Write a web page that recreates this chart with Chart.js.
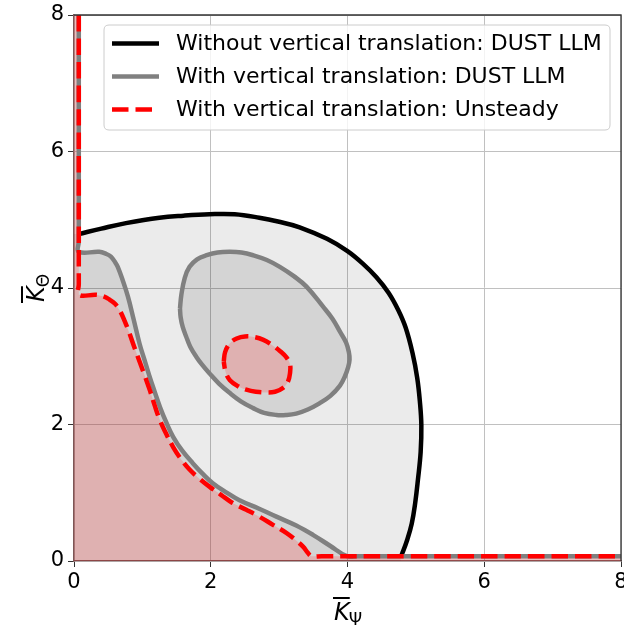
<!DOCTYPE html>
<html><head><meta charset="utf-8">
<script src="https://cdn.jsdelivr.net/npm/chart.js@4.4.0/dist/chart.umd.min.js"></script>
<style>html,body{margin:0;padding:0;background:#fff}#wrap{width:624px;height:629px;position:relative}</style>
</head><body><div id="wrap"><canvas id="c"></canvas></div>
<script>
const xTicks = [0, 2, 4, 6, 8];
const yTicks = [0, 2, 4, 6, 8];
const EDGE = 0.07;
const TOP = 8, RIGHT = 8;

// Without vertical translation: DUST LLM (black boundary)
const blackCurve = [[0.07,4.79],[0.4,4.87],[0.76,4.95],[1.25,5.03],[1.6,5.06],[1.98,5.08],[2.35,5.08],[2.71,5.03],[3.0,4.97],[3.30,4.89],[3.7,4.72],[4.0,4.54],[4.22,4.36],[4.42,4.16],[4.60,3.93],[4.74,3.68],[4.85,3.42],[4.95,3.05],[5.02,2.68],[5.06,2.32],[5.08,1.99],[5.07,1.6],[5.03,1.19],[4.99,0.85],[4.94,0.55],[4.87,0.3],[4.80,0.11],[4.78,0.07]];

// With vertical translation: DUST LLM (gray boundary)
const grayBlob = [[0.07,4.53],[0.37,4.53],[0.47,4.50],[0.54,4.46],[0.60,4.38],[0.64,4.31],[0.71,4.12],[0.79,3.87],[0.87,3.55],[0.96,3.18],[1.03,2.95],[1.10,2.72],[1.18,2.48],[1.26,2.25],[1.35,2.03],[1.45,1.82],[1.58,1.62],[1.74,1.43],[1.88,1.28],[2.03,1.14],[2.22,1.01],[2.42,0.89],[2.70,0.77],[2.96,0.65],[3.25,0.52],[3.50,0.38],[3.75,0.22],[3.99,0.07]];
const grayLoop = [[1.55,3.70],[1.57,3.90],[1.62,4.15],[1.69,4.31],[1.80,4.42],[1.94,4.48],[2.10,4.52],[2.28,4.53],[2.45,4.52],[2.62,4.48],[2.82,4.41],[3.01,4.31],[3.22,4.17],[3.40,4.02],[3.64,3.73],[3.78,3.55],[3.89,3.36],[3.98,3.20],[4.02,3.06],[4.03,2.95],[4.01,2.84],[3.96,2.70],[3.89,2.57],[3.75,2.42],[3.59,2.31],[3.42,2.22],[3.25,2.16],[3.10,2.14],[2.96,2.14],[2.78,2.17],[2.62,2.24],[2.44,2.34],[2.28,2.46],[2.12,2.60],[1.98,2.75],[1.87,2.88],[1.79,2.99],[1.70,3.14],[1.64,3.29],[1.59,3.43],[1.56,3.57],[1.55,3.70]];

// With vertical translation: Unsteady (red boundary)
const redBlob = [[0.07,3.90],[0.33,3.90],[0.45,3.87],[0.52,3.83],[0.60,3.77],[0.67,3.67],[0.74,3.52],[0.81,3.34],[0.88,3.14],[0.96,2.92],[1.04,2.70],[1.11,2.50],[1.18,2.28],[1.25,2.08],[1.35,1.86],[1.45,1.67],[1.56,1.50],[1.69,1.34],[1.83,1.21],[1.98,1.09],[2.15,0.97],[2.32,0.85],[2.52,0.75],[2.71,0.65],[2.91,0.53],[3.11,0.41],[3.25,0.30],[3.35,0.21],[3.42,0.12],[3.47,0.07]];
const redLoop = [[2.19,2.92],[2.21,3.06],[2.28,3.19],[2.38,3.26],[2.50,3.29],[2.64,3.28],[2.77,3.24],[2.89,3.17],[3.02,3.07],[3.11,2.98],[3.16,2.88],[3.16,2.76],[3.13,2.63],[3.05,2.53],[2.94,2.48],[2.81,2.47],[2.66,2.48],[2.52,2.51],[2.40,2.56],[2.28,2.65],[2.22,2.76],[2.19,2.92]];

const legendLabels = ['Without vertical translation: DUST LLM','With vertical translation: DUST LLM','With vertical translation: Unsteady'];
const lineColors = ['#000000','#808080','#ff0000'];

const pts = a => a.map(p => ({x:p[0], y:p[1]}));
// boundary lines running along the left and bottom edges of the plot
const grayEdge = [[EDGE,TOP],[EDGE,4.68], ...grayBlob, [4.15,EDGE],[RIGHT,EDGE]];
const redEdge = [[EDGE,TOP],[EDGE,4.05], ...redBlob, [3.62,EDGE],[RIGHT,EDGE]];
const blackFill = [[0,0],[0,4.79], ...blackCurve, [4.78,0]];
const grayFill = [[0,TOP], ...grayEdge, [RIGHT,0],[0,0]];
const redFill = [[0,TOP], ...redEdge, [RIGHT,0],[0,0]];

const LW = 4.5, T = 0.4, DASH = [16.5, 7];
const fillDs = (data, color, order, t) => ({data: pts(data), fill:'shape', backgroundColor: color, borderWidth:0, borderColor:'rgba(0,0,0,0)', pointRadius:0, tension:t||0, order});
const lineDs = (data, color, order, dash) => ({data: pts(data), fill:false, borderColor: color, borderWidth: LW, borderDash: dash||[], borderCapStyle:'butt', borderJoinStyle:'round', pointRadius:0, tension:T, order});

const datasets = [
  fillDs(blackFill, 'rgba(0,0,0,0.08)', 20),
  fillDs(grayFill, 'rgba(0,0,0,0.10)', 19),
  fillDs(grayLoop, 'rgba(0,0,0,0.10)', 18, T),
  fillDs(redFill, 'rgba(255,71,71,0.25)', 17),
  fillDs(redLoop, 'rgba(255,71,71,0.25)', 16, T),
  lineDs(blackCurve, lineColors[0], 10),
  lineDs(grayEdge, lineColors[1], 9),
  lineDs(grayLoop, lineColors[1], 8),
  lineDs(redEdge, lineColors[2], 7, DASH),
  lineDs(redLoop, lineColors[2], 6, DASH),
];

const FONT = 'DejaVu Sans';
const decor = {
  id:'decor',
  afterDraw(chart){
    const ctx = chart.ctx, a = chart.chartArea;
    ctx.save();
    // top/right spines
    ctx.strokeStyle = '#333333'; ctx.lineWidth = 1.3;
    ctx.beginPath(); ctx.moveTo(a.left, a.top); ctx.lineTo(a.right, a.top); ctx.lineTo(a.right, a.bottom); ctx.stroke();
    // legend box
    const bx=104, by=25, bw=506, bh=105, r=5;
    ctx.beginPath();
    ctx.moveTo(bx+r,by); ctx.lineTo(bx+bw-r,by); ctx.quadraticCurveTo(bx+bw,by,bx+bw,by+r);
    ctx.lineTo(bx+bw,by+bh-r); ctx.quadraticCurveTo(bx+bw,by+bh,bx+bw-r,by+bh);
    ctx.lineTo(bx+r,by+bh); ctx.quadraticCurveTo(bx,by+bh,bx,by+bh-r);
    ctx.lineTo(bx,by+r); ctx.quadraticCurveTo(bx,by,bx+r,by); ctx.closePath();
    ctx.fillStyle='rgba(255,255,255,0.8)'; ctx.fill();
    ctx.strokeStyle='#cccccc'; ctx.lineWidth=1; ctx.stroke();
    const ys=[43.6,76.4,109.5];
    ctx.font = '22px "'+FONT+'"'; ctx.textBaseline='middle'; ctx.textAlign='left';
    legendLabels.forEach((t,i)=>{
      ctx.beginPath(); ctx.strokeStyle=lineColors[i]; ctx.lineWidth=LW; ctx.lineCap='butt';
      ctx.setLineDash(i===2?DASH:[]);
      ctx.moveTo(112, ys[i]); ctx.lineTo(159, ys[i]); ctx.stroke();
      ctx.setLineDash([]);
      ctx.fillStyle='#000'; ctx.fillText(t, 176, ys[i]+1);
    });
    // axis titles
    const title = (sub) => {
      ctx.font = 'italic 24px "'+FONT+'"'; ctx.textBaseline='alphabetic'; ctx.textAlign='left';
      const kw = ctx.measureText('K').width;
      ctx.fillText('K', 0, 0);
      ctx.fillRect(-1, -23, kw+1, 2);
      ctx.font = '17px "'+FONT+'"';
      ctx.fillText(sub, kw-1, 5);
    };
    ctx.fillStyle='#000';
    ctx.save(); ctx.translate(334, 620); title('Ψ'); ctx.restore();
    ctx.save(); ctx.translate(44, 302); ctx.rotate(-Math.PI/2); title('Θ'); ctx.restore();
    ctx.restore();
  }
};

const tickFont = {family: FONT, size: 21};
new Chart(document.getElementById('c'), {
  type:'line',
  data:{datasets},
  options:{
    responsive:true, maintainAspectRatio:false, animation:false,
    layout:{padding:{left:0,right:3,top:15,bottom:0}},
    plugins:{legend:{display:false}, tooltip:{enabled:false}},
    scales:{
      x:{type:'linear', min:0, max:8,
        afterBuildTicks: s => { s.ticks = xTicks.map(v=>({value:v})); },
        afterFit: s => { s.height = 68; s.paddingLeft = 0; s.paddingRight = 0; },
        grid:{color:'#c0c0c0', lineWidth:1, tickColor:'#333', tickLength:6},
        border:{color:'#7d5656', width:1.3},
        ticks:{font:tickFont, color:'#000', padding:3, maxRotation:0, autoSkip:false}},
      y:{type:'linear', min:0, max:8,
        afterBuildTicks: s => { s.ticks = yTicks.map(v=>({value:v})); },
        afterFit: s => { s.width = 74; s.paddingTop = 0; s.paddingBottom = 0; },
        grid:{color:'#c0c0c0', lineWidth:1, tickColor:'#333', tickLength:6},
        border:{color:'#7d5656', width:1.3},
        ticks:{font:tickFont, color:'#000', padding:4, autoSkip:false}}
    }
  },
  plugins:[decor]
});
</script></body></html>
